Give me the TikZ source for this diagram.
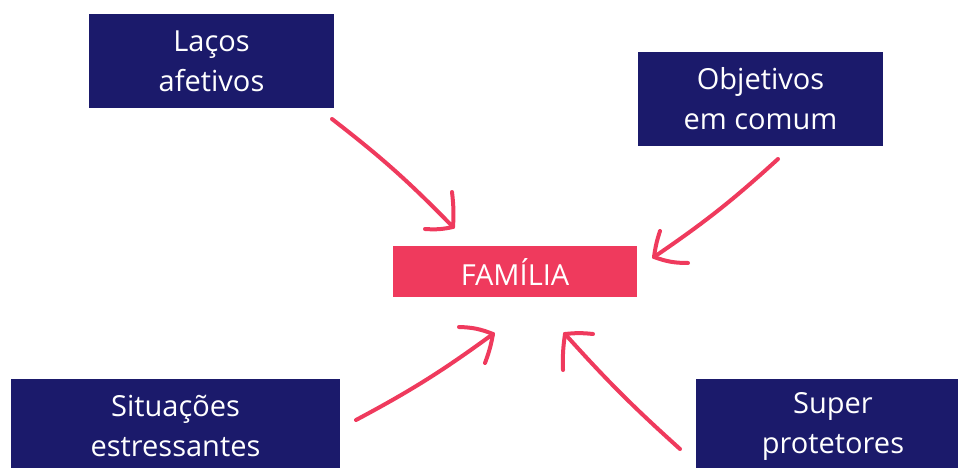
\documentclass[tikz,border=0pt]{standalone}
\usepackage{fontspec}
\setmainfont{Open Sans}
\usetikzlibrary{calc}
\definecolor{navy}{HTML}{1B1A6B}
\definecolor{rosa}{HTML}{EF3A5D}
\tikzset{
 caixa/.style={fill=navy,text=white,minimum width=245pt,minimum height=94pt,inner sep=0pt,align=center,font=\fontsize{29}{40}\selectfont},
 central/.style={fill=rosa,text=white,minimum width=244pt,minimum height=51pt,inner sep=0pt,font=\fontsize{29}{40}\selectfont},
 traco/.style={rosa,line width=4pt,line cap=round,line join=round}
}
\begin{document}
\begin{tikzpicture}[x=1pt,y=-1pt]
\useasboundingbox(0,0)rectangle(958,468);
\clip(0,0)rectangle(958,468);
\node[caixa](laco)at(211.5,61){La\c{c}os\\afetivos};
\node[caixa](obj)at(760.5,99){Objetivos\\em comum};
\node[central](fam)at(515,271.5){FAM\'ILIA};
\node[caixa,minimum width=329pt](sit)at(175.5,426){Situa\c{c}\~oes\\estressantes};
\node[caixa,minimum width=274pt](sup)at(833,426){Super\\protetores};
% pontas das setas
\coordinate(a1)at(332,119);\coordinate(p1)at(453,227);
\coordinate(a2)at(778,159);\coordinate(p2)at(654,257);
\coordinate(a3)at(356,420);\coordinate(p3)at(493,334);
\coordinate(a4)at(680,449);\coordinate(p4)at(565,334);
\draw[traco](a1)to[bend left=4](p1);\draw[traco](452,192)to[bend left=5](p1)(425,229)to[bend right=8](p1);
\draw[traco](a2)to[bend left=4](p2);\draw[traco](660,231)to[bend right=5](p2)(688,263)to[bend left=10](p2);
\draw[traco](a3)to[bend right=4](p3);\draw[traco](459,327)to[bend left=10](p3)(485,363)to[bend right=5](p3);
\draw[traco](a4)to[bend left=3](p4);\draw[traco](593,334)to[bend right=6](p4)(563,370)to[bend left=5](p4);
\end{tikzpicture}
\end{document}
